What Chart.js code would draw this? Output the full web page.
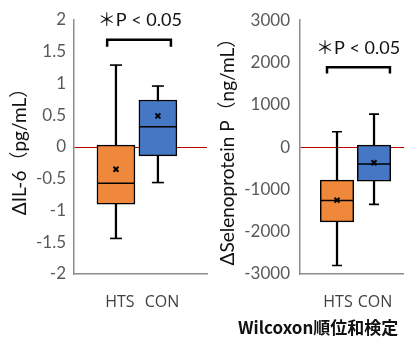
<!DOCTYPE html>
<html>
<head>
<meta charset="utf-8">
<script src="https://cdn.jsdelivr.net/npm/chart.js@4"></script>
<style>
body { margin: 0; width: 404px; height: 338px; background: #fff; position: relative; overflow: hidden; }
canvas { position: absolute; top: 0; }
#il6_chart { left: 0; }
#sep_chart { left: 200px; }
#note { position: absolute; left: 238px; top: 314px; font: bold 17px 'Noto Sans CJK JP', sans-serif; color: #111; white-space: nowrap; }
</style>
</head>
<body>
<canvas id="il6_chart" width="210" height="338"></canvas>
<canvas id="sep_chart" width="204" height="338"></canvas>
<div id="note">Wilcoxon順位和検定</div>
<script>
var categories = ['HTS', 'CON'];
var boxColors = ['#F0883C', '#4677C5'];

// ΔIL-6 (pg/mL)
var il6Min = [-1.44, -0.56];
var il6Q1 = [-0.90, -0.14];
var il6Median = [-0.57, 0.32];
var il6Q3 = [0.03, 0.74];
var il6Max = [1.29, 0.96];
var il6Mean = [-0.35, 0.49];
var il6Ticks = [-2, -1.5, -1, -0.5, 0, 0.5, 1, 1.5, 2];

// ΔSelenoprotein P (ng/mL)
var sepMin = [-2800, -1355];
var sepQ1 = [-1766, -804];
var sepMedian = [-1260, -402];
var sepQ3 = [-780, 47];
var sepMax = [362, 780];
var sepMean = [-1255, -371];
var sepTicks = [-3000, -2000, -1000, 0, 1000, 2000, 3000];

var sigText = '＊P < 0.05';

// bracket + p-value label, placed through the chart scales
var sigPlugin = {
    id: 'sig',
    afterDatasetsDraw: function (chart, args, opts) {
        var x = chart.scales.x, y = chart.scales.y, c = chart.ctx;
        var x0 = x.getPixelForValue(opts.from), x1 = x.getPixelForValue(opts.to);
        var yTop = y.getPixelForValue(opts.top), yLeg = y.getPixelForValue(opts.leg);
        c.save();
        c.strokeStyle = '#000';
        c.lineWidth = 2.5;
        c.beginPath();
        c.moveTo(x0, yLeg);
        c.lineTo(x0, yTop);
        c.lineTo(x1, yTop);
        c.lineTo(x1, yLeg);
        c.stroke();
        c.font = '18px Lato, "Noto Sans CJK JP"';
        c.fillStyle = '#111';
        c.textAlign = 'center';
        c.textBaseline = 'middle';
        c.fillText(sigText, x.getPixelForValue(opts.textX), y.getPixelForValue(opts.textY));
        c.restore();
    }
};

function pts(arr) {
    return arr.map(function (v, i) { return {x: i + 1, y: v}; });
}

function boxChart(id, cfg) {
    return new Chart(id, {
        type: 'bar',
        data: {
            datasets: [{
                label: 'whisker',
                data: cfg.min.map(function (v, i) { return {x: i + 1, y: [v, cfg.max[i]]}; }),
                backgroundColor: '#000',
                barThickness: 1.6,
                grouped: false,
                order: 3
            }, {
                label: 'box',
                data: cfg.q1.map(function (v, i) { return {x: i + 1, y: [v, cfg.q3[i]]}; }),
                backgroundColor: boxColors,
                borderColor: '#000',
                borderWidth: 1.5,
                borderSkipped: false,
                barThickness: cfg.boxWidth,
                grouped: false,
                order: 2
            }, {
                type: 'line',
                label: 'cap',
                data: pts(cfg.min).concat(pts(cfg.max)),
                showLine: false,
                pointStyle: 'line',
                pointRadius: cfg.capR,
                borderColor: '#000',
                pointBorderWidth: 1.6,
                order: 1
            }, {
                type: 'line',
                label: 'median',
                data: pts(cfg.median),
                showLine: false,
                pointStyle: 'line',
                pointRadius: cfg.boxWidth / 2,
                borderColor: '#000',
                pointBorderWidth: 1.5,
                order: 1
            }, {
                type: 'line',
                label: 'mean',
                data: pts(cfg.mean),
                showLine: false,
                pointStyle: 'crossRot',
                pointRadius: 3.5,
                borderColor: '#000',
                pointBorderWidth: 2,
                order: 0
            }]
        },
        options: {
            responsive: false,
            animation: false,
            layout: {autoPadding: false, padding: {top: 20, right: cfg.padRight, bottom: 0, left: 0}},
            plugins: {
                legend: {display: false},
                tooltip: {enabled: false},
                sig: cfg.sig
            },
            scales: {
                x: {
                    type: 'linear',
                    min: 0,
                    max: cfg.xMax,
                    offset: false,
                    grid: {display: false, offset: false},
                    border: {color: '#8c8c8c', width: 1.5},
                    afterBuildTicks: function (s) {
                        s.ticks = categories.map(function (c, i) { return {value: i + 1}; });
                    },
                    ticks: {
                        callback: function (v) { return categories[v - 1]; },
                        color: '#404040',
                        font: {family: 'Open Sans', size: 16},
                        padding: 11,
                        labelOffset: cfg.labelOffset,
                        maxRotation: 0,
                        autoSkip: false
                    },
                    afterFit: function (s) {
                        s.height = 64;
                        s.paddingLeft = 0;
                        s.paddingRight = 0;
                    }
                },
                y: {
                    min: cfg.ticks[0],
                    max: cfg.ticks[cfg.ticks.length - 1],
                    afterBuildTicks: function (s) {
                        s.ticks = cfg.ticks.map(function (v) { return {value: v}; });
                    },
                    grid: {
                        drawTicks: false,
                        lineWidth: 1,
                        color: function (ctx) {
                            return ctx.tick && ctx.tick.value === 0 ? '#c00000' : 'rgba(0,0,0,0)';
                        }
                    },
                    border: {color: '#8c8c8c', width: 1.5},
                    ticks: {
                        color: '#595959',
                        font: {family: 'Lato', size: 17},
                        padding: cfg.tickPad,
                        callback: function (v) { return String(v); }
                    },
                    title: {
                        display: true,
                        text: cfg.title,
                        color: '#111',
                        font: {family: 'Lato, "Noto Sans CJK JP"', size: 19},
                        padding: {top: cfg.titlePad, bottom: 0}
                    },
                    afterFit: function (s) { s.width = cfg.yWidth; }
                }
            }
        },
        plugins: [sigPlugin]
    });
}

boxChart('il6_chart', {
    min: il6Min, q1: il6Q1, median: il6Median, q3: il6Q3, max: il6Max, mean: il6Mean,
    ticks: il6Ticks,
    title: 'ΔIL-6（pg/mL）',
    boxWidth: 38, capR: 6, xMax: 3.17, padRight: 3, yWidth: 74,
    tickPad: 8, titlePad: 8, labelOffset: 4,
    sig: {from: 0.79, to: 2.31, top: 1.69, leg: 1.58, textX: 1.57, textY: 2.0}
});

boxChart('sep_chart', {
    min: sepMin, q1: sepQ1, median: sepMedian, q3: sepQ3, max: sepMax, mean: sepMean,
    ticks: sepTicks,
    title: 'ΔSelenoprotein P（ng/mL）',
    boxWidth: 33.5, capR: 5, xMax: 2.81, padRight: 0, yWidth: 100,
    tickPad: 10, titlePad: 16, labelOffset: 1,
    sig: {from: 0.73, to: 2.43, top: 1890, leg: 1740, textX: 1.57, textY: 2340}
});
</script>
</body>
</html>
